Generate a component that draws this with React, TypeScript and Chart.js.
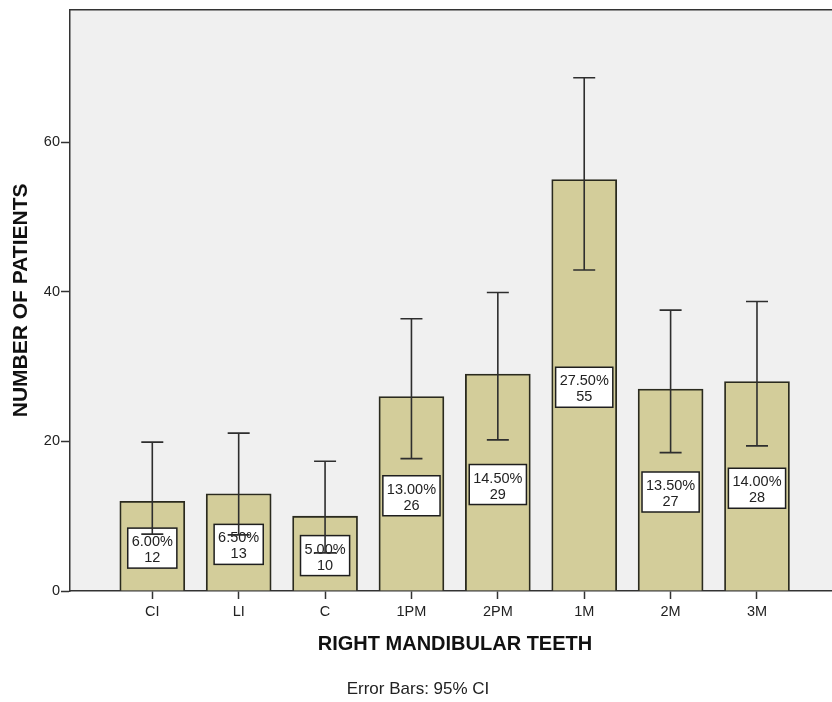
import React, { useEffect, useRef } from "react";
import { Chart, registerables } from "chart.js";

Chart.register(...registerables);

const categories = ["CI", "LI", "C", "1PM", "2PM", "1M", "2M", "3M"];
const patients = [12, 13, 10, 26, 29, 55, 27, 28];
const percentLabels = ["6.00%", "6.50%", "5.00%", "13.00%", "14.50%", "27.50%", "13.50%", "14.00%"];
const ciLower = [7.6, 7.5, 5.1, 17.7, 20.2, 42.9, 18.5, 19.4];
const ciUpper = [19.9, 21.1, 17.35, 36.4, 39.9, 68.6, 37.55, 38.7];
const yTicks = [0, 20, 40, 60];

const FAMILY = "'Liberation Sans', Arial, Helvetica, sans-serif";

const overlayPlugin = {
  id: "overlay",
  beforeDraw(chart: any) {
    const { ctx, chartArea: a } = chart;
    ctx.save();
    ctx.fillStyle = "#f0f0f0";
    ctx.fillRect(a.left, a.top, a.right - a.left, a.bottom - a.top);
    ctx.restore();
  },
  afterDatasetsDraw(chart: any) {
    const { ctx } = chart;
    const xs = chart.scales.x;
    const ys = chart.scales.y;
    ctx.save();
    // value labels
    ctx.font = `14.5px ${FAMILY}`;
    ctx.textAlign = "center";
    ctx.textBaseline = "middle";
    patients.forEach((v, i) => {
      const cx = xs.getPixelForValue(i);
      const cy = ys.getPixelForValue(v / 2) + 2;
      const lines = [percentLabels[i], String(v)];
      const w = Math.max(...lines.map((l) => ctx.measureText(l).width)) + 8;
      const h = 40;
      ctx.fillStyle = "#ffffff";
      ctx.fillRect(cx - w / 2, cy - h / 2, w, h);
      ctx.strokeStyle = "#1e1e1e";
      ctx.lineWidth = 1.5;
      ctx.strokeRect(cx - w / 2, cy - h / 2, w, h);
      ctx.fillStyle = "#222222";
      ctx.fillText(lines[0], cx, cy - 6);
      ctx.fillText(lines[1], cx, cy + 10);
    });
    // error bars
    ctx.strokeStyle = "#2e2e2e";
    ctx.lineWidth = 1.6;
    const cap = 11;
    patients.forEach((_, i) => {
      const cx = xs.getPixelForValue(i);
      const yl = ys.getPixelForValue(ciLower[i]);
      const yu = ys.getPixelForValue(ciUpper[i]);
      ctx.beginPath();
      ctx.moveTo(cx, yl);
      ctx.lineTo(cx, yu);
      ctx.moveTo(cx - cap, yu);
      ctx.lineTo(cx + cap, yu);
      ctx.moveTo(cx - cap, yl);
      ctx.lineTo(cx + cap, yl);
      ctx.stroke();
    });
    ctx.restore();
  },
  afterDraw(chart: any) {
    const { ctx, chartArea: a } = chart;
    ctx.save();
    ctx.strokeStyle = "#333333";
    ctx.lineWidth = 1.5;
    ctx.beginPath();
    ctx.moveTo(a.left, a.top);
    ctx.lineTo(a.right, a.top);
    ctx.stroke();
    ctx.font = `17px ${FAMILY}`;
    ctx.fillStyle = "#222222";
    ctx.textAlign = "center";
    ctx.textBaseline = "middle";
    ctx.fillText("Error Bars: 95% CI", 418, 689);
    ctx.restore();
  },
};

export default function App() {
  const ref = useRef<HTMLCanvasElement>(null);
  useEffect(() => {
    const canvas = ref.current!;
    const chart = new Chart(canvas, {
      type: "bar",
      data: {
        datasets: [
          {
            data: patients.map((v, i) => ({ x: i, y: v })),
            backgroundColor: "#d3cd9a",
            borderColor: "#2a2a1e",
            borderWidth: 1.8,
            barThickness: 65,
            borderSkipped: "start",
          } as any,
        ],
      },
      options: {
        responsive: false,
        animation: false,
        layout: { padding: { top: 9, left: 0, right: 0, bottom: 0 } },
        plugins: { legend: { display: false }, tooltip: { enabled: false } },
        scales: {
          x: {
            type: "linear",
            offset: false,
            min: -0.9527,
            max: 7.961,
            afterBuildTicks: (s: any) => {
              s.ticks = categories.map((_, i) => ({ value: i }));
            },
            afterFit: (s: any) => {
              s.height = 111;
            },
            ticks: {
              callback: (v: any) => categories[v as number] ?? "",
              color: "#222222",
              font: { family: FAMILY, size: 14.5 },
              padding: 4,
              autoSkip: false,
              maxRotation: 0,
            },
            grid: { offset: false, drawOnChartArea: false, tickLength: 8, tickColor: "#333333", tickWidth: 1.5 },
            border: { color: "#333333", width: 1.5 },
            title: {
              display: true,
              text: "RIGHT MANDIBULAR TEETH",
              color: "#111111",
              font: { family: FAMILY, size: 20, weight: "bold" },
              padding: { top: 0, bottom: 45.5 },
            },
          },
          y: {
            min: 0,
            max: 77.7,
            afterBuildTicks: (s: any) => {
              s.ticks = yTicks.map((v) => ({ value: v }));
            },
            afterFit: (s: any) => {
              s.width = 70;
            },
            ticks: {
              color: "#222222",
              font: { family: FAMILY, size: 14.5 },
              padding: 1,
            },
            grid: { drawOnChartArea: false, tickLength: 9, tickColor: "#333333", tickWidth: 1.5 },
            border: { color: "#333333", width: 1.5 },
            title: {
              display: true,
              text: "NUMBER OF PATIENTS",
              color: "#111111",
              font: { family: FAMILY, size: 21, weight: "bold" },
              padding: { top: 8.6, bottom: 0 },
            },
          },
        },
      } as any,
      plugins: [overlayPlugin],
    });
    return () => chart.destroy();
  }, []);

  return (
    <div
      style={{
        position: "absolute",
        left: 0,
        top: 0,
        width: 832,
        height: 702,
        overflow: "hidden",
        background: "#ffffff",
      }}
    >
      <canvas ref={ref} width={840} height={702} style={{ display: "block", width: 840, height: 702 }} />
    </div>
  );
}
